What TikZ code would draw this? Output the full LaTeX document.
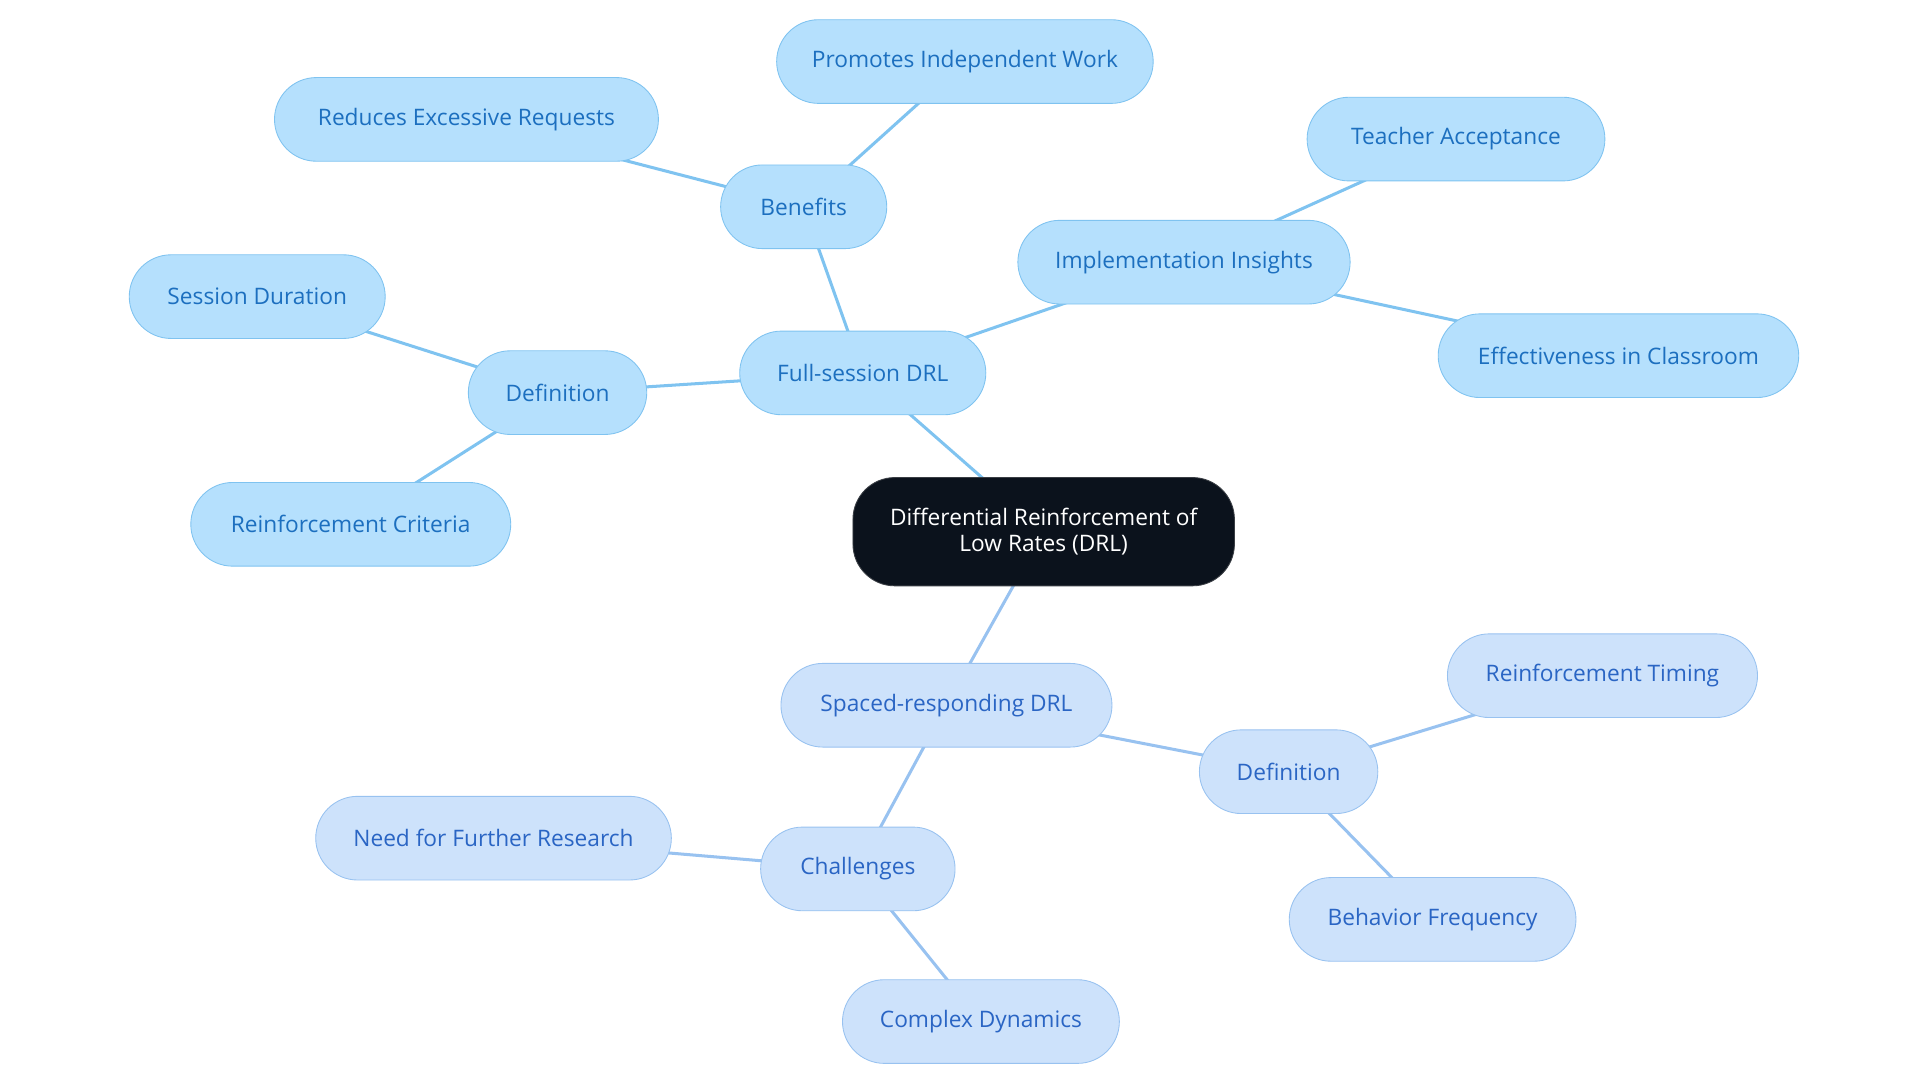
\documentclass[tikz,border=0pt]{standalone}
\usepackage{fontspec}
\setmainfont{Open Sans}
\definecolor{rootfill}{HTML}{0B121C}
\definecolor{upfill}{HTML}{B5E0FD}
\definecolor{updraw}{HTML}{7FC3F0}
\definecolor{uptext}{HTML}{1C6FBF}
\definecolor{lofill}{HTML}{CDE2FB}
\definecolor{lodraw}{HTML}{98C2F0}
\definecolor{lotext}{HTML}{2A65C4}
\tikzset{
  pill/.style={rounded corners=0.68cm, minimum height=1.36cm, inner sep=0pt, font=\fontsize{10.5}{12}\selectfont},
  up/.style={pill, fill=upfill, draw=updraw, text=uptext},
  lo/.style={pill, fill=lofill, draw=lodraw, text=lotext},
  upline/.style={draw=updraw, line width=1.4pt},
  loline/.style={draw=lodraw, line width=1.4pt}
}
\begin{document}
\begin{tikzpicture}[x=0.02cm, y=-0.02cm]
		\useasboundingbox (0,0) rectangle (1560,880);
		%links
		\coordinate (rootc) at (848,432);
		\coordinate (fullc) at (701,303);
		\coordinate (benc) at (653,168);
		\coordinate (implc) at (962,213);
		\coordinate (defac) at (453,319);
		\coordinate (spacc) at (769,573);
		\coordinate (defbc) at (1047,627);
		\coordinate (chalc) at (697,706);
		\draw[upline] (rootc) -- (fullc);
		\draw[upline] (fullc) -- (benc);
		\draw[upline] (benc) -- (784,50);
		\draw[upline] (benc) -- (379,97);
		\draw[upline] (fullc) -- (implc);
		\draw[upline] (implc) -- (1183,113);
		\draw[upline] (implc) -- (1315,289);
		\draw[upline] (fullc) -- (defac);
		\draw[upline] (defac) -- (209,241);
		\draw[upline] (defac) -- (285,426);
		\draw[loline] (rootc) -- (spacc);
		\draw[loline] (spacc) -- (defbc);
		\draw[loline] (defbc) -- (1302,549);
		\draw[loline] (defbc) -- (1164,747);
		\draw[loline] (spacc) -- (chalc);
		\draw[loline] (chalc) -- (401,681);
		\draw[loline] (chalc) -- (797,830);
		
		%nodes
		\node (root) at (rootc) [pill, minimum width=6.2cm, minimum height=1.76cm, fill=rootfill, draw=rootfill!60!gray, text=white, align=center]{Differential Reinforcement of\\Low Rates (DRL)};
		\node (full) at (fullc) [up, minimum width=4cm]{Full-session DRL};
		\node (ben) at (benc) [up, minimum width=2.7cm]{Benefits};
		\node (prom) at (784,50) [up, minimum width=6.12cm]{Promotes Independent Work};
		\node (red) at (379,97) [up, minimum width=6.24cm]{Reduces Excessive Requests};
		\node (impl) at (implc) [up, minimum width=5.4cm]{Implementation Insights};
		\node (teach) at (1183,113) [up, minimum width=4.84cm]{Teacher Acceptance};
		\node (eff) at (1315,289) [up, minimum width=5.86cm]{Effectiveness in Classroom};
		\node (defa) at (defac) [up, minimum width=2.9cm]{Definition};
		\node (sess) at (209,241) [up, minimum width=4.16cm]{Session Duration};
		\node (crit) at (285,426) [up, minimum width=5.2cm]{Reinforcement Criteria};
		\node (spac) at (spacc) [lo, minimum width=5.38cm]{Spaced-responding DRL};
		\node (defb) at (defbc) [lo, minimum width=2.9cm]{Definition};
		\node (tim) at (1302,549) [lo, minimum width=5.04cm]{Reinforcement Timing};
		\node (freq) at (1164,747) [lo, minimum width=4.66cm]{Behavior Frequency};
		\node (chal) at (chalc) [lo, minimum width=3.16cm]{Challenges};
		\node (need) at (401,681) [lo, minimum width=5.78cm]{Need for Further Research};
		\node (cplx) at (797,830) [lo, minimum width=4.5cm]{Complex Dynamics};
\end{tikzpicture}
\end{document}
